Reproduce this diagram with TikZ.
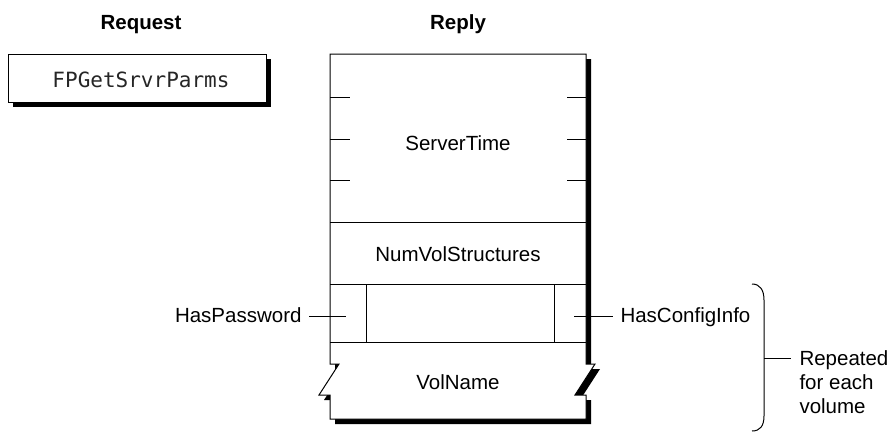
\documentclass[tikz,border=0pt]{standalone}
\usepackage{fontspec}
\setmainfont{Liberation Sans}
\newfontfamily\monofont{DejaVu Sans Mono}
\begin{document}
\begin{tikzpicture}[x=1pt,y=-1pt,line width=1pt,
  lbl/.style={font=\fontsize{20.5}{24}\selectfont, inner sep=0pt},
  ttl/.style={font=\fontsize{20.5}{24}\selectfont\bfseries, inner sep=0pt, anchor=base},
  mono/.style={font=\fontsize{21}{24}\monofont, inner sep=0pt, text=black!85},
  replypath/.style={insert path={(330,54) -- (586,54) -- (586,364) -- (595,364) -- (575,395) -- (586,395) -- (586,419) -- (330,419) -- (330,395) -- (319,395) -- (339,364) -- (330,364) -- cycle}},
  rule/.style={line width=1pt}]
\useasboundingbox (0,0) rectangle (895,432);

% titles
\node[ttl] (request) at (141,29) {Request};
\node[ttl] (reply) at (458,29) {Reply};

% request box
\fill (13,59) rectangle (271,107);
\node[draw, fill=white, minimum width=258pt, minimum height=48pt, inner sep=0pt, anchor=north west] (req) at (8,54) {};
\node[mono, anchor=base] (reqtxt) at (141,87) {FPGetSrvrParms};

% reply shape with shadow
\fill[shift={(5,5)}, replypath];
\draw[fill=white, replypath];

% ServerTime ticks
\foreach \y in {97,139,180} {
  \draw[rule] (330,\y) -- (350,\y);
  \draw[rule] (567,\y) -- (586,\y);
}
% dividers
\draw[rule] (330,222) -- (586,222);
\draw[rule] (330,284) -- (586,284);
\draw[rule] (330,342) -- (586,342);
\draw[rule] (366,284) -- (366,342);
\draw[rule] (554,284) -- (554,342);

% field labels
\node[lbl, anchor=base] (st) at (458,150) {ServerTime};
\node[lbl, anchor=base] (nvs) at (458,261) {NumVolStructures};
\node[lbl, anchor=base] (vn) at (458,389) {VolName};

% side labels
\node[lbl, anchor=base east] (hp) at (302,322) {HasPassword};
\node[lbl, anchor=base west] (hc) at (620,322) {HasConfigInfo};
\coordinate (hpA) at (309,316);
\coordinate (hpB) at (346,316);
\coordinate (hcA) at (574,316);
\coordinate (hcB) at (613,316);
\draw[rule] (hpA) -- (hpB);
\draw[rule] (hcA) -- (hcB);

% bracket
\coordinate (brT) at (752,284);
\coordinate (brB) at (752,431);
\coordinate (brM) at (764,358);
\coordinate (brE) at (791,358);
\draw[rule] (brT) .. controls (760,284) and (764,290) .. (764,300) -- (764,416) .. controls (764,426) and (760,431) .. (brB);
\draw[rule] (brM) -- (brE);
\node[lbl, anchor=north west, align=left] (rep) at (799,350) {Repeated\\for each\\volume};
\end{tikzpicture}
\end{document}
